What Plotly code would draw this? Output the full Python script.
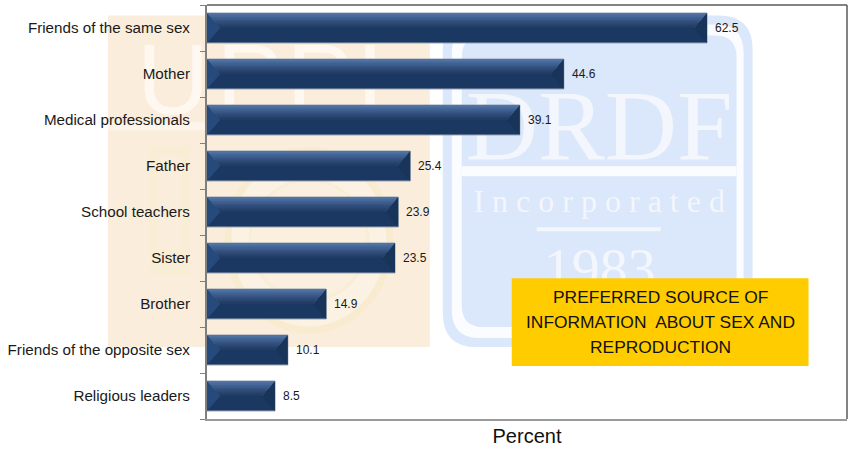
import plotly.graph_objects as go

categories = ["Friends of the same sex", "Mother", "Medical professionals", "Father",
              "School teachers", "Sister", "Brother", "Friends of the opposite sex", "Religious leaders"]
values = [62.5, 44.6, 39.1, 25.4, 23.9, 23.5, 14.9, 10.1, 8.5]
box_lines = ["PREFERRED SOURCE OF", "INFORMATION  ABOUT SEX AND", "REPRODUCTION"]
x_title = "Percent"

W, H = 852, 450
L, R, T, B = 207, 847.5, 4.5, 419
BAR_W = 0.65
BEVEL_X = 1.65        # data units
positions = list(range(len(categories)))


def px(x):
    return (x - L) / (R - L)


def py(y):
    return 1 - (y - T) / (B - T)


def rect(x0, y0, x1, y1, **kw):
    return dict(type="rect", xref="paper", yref="paper", x0=px(x0), x1=px(x1), y0=py(y0), y1=py(y1),
                layer="below", **kw)


def rrect(x0, y0, x1, y1, r, fill):
    a, b, c, d = px(x0), px(x1), py(y0), py(y1)
    rx, ry = r / (R - L), r / (B - T)
    path = (f"M {a+rx} {c} L {b-rx} {c} Q {b} {c} {b} {c-ry} L {b} {d+ry} Q {b} {d} {b-rx} {d} "
            f"L {a+rx} {d} Q {a} {d} {a} {d+ry} L {a} {c-ry} Q {a} {c} {a+rx} {c} Z")
    return dict(type="path", xref="paper", yref="paper", path=path, fillcolor=fill,
                line=dict(width=0), layer="below")


def wm_text(x0, y0, x1, y1, text, size, color, family="Liberation Serif"):
    return rect(x0, y0, x1, y1, fillcolor="rgba(0,0,0,0)", line=dict(width=0),
                label=dict(text=text, textposition="middle center",
                           font=dict(family=family, size=size, color=color)))


shapes = [
    rect(108, 15, 430, 347, fillcolor="#fbeddc", line=dict(width=0)),
    rect(108, 122, 215, 130, fillcolor="#fdf5ea", line=dict(width=0)),
    dict(type="circle", xref="paper", yref="paper", x0=px(228), x1=px(390), y0=py(150), y1=py(330),
         fillcolor="#fcf2e4", line=dict(color="#f8ebd0", width=7), layer="below"),
    dict(type="circle", xref="paper", yref="paper", x0=px(250), x1=px(368), y0=py(180), y1=py(300),
         fillcolor="#fbf0df", line=dict(color="#f8eed6", width=3), layer="below"),
    rect(150, 145, 190, 275, fillcolor="#f8eed6", line=dict(width=0)),
    rect(158, 155, 182, 250, fillcolor="#fbeddc", line=dict(width=0)),
    wm_text(130, 25, 216, 115, "U", 100, "#fef8f0", "Liberation Sans"),
    wm_text(207, 25, 293, 115, "P", 100, "#fef8f0", "Liberation Sans"),
    wm_text(277, 25, 363, 115, "P", 100, "#fef8f0", "Liberation Sans"),
    wm_text(327, 25, 413, 115, "I", 100, "#fef8f0", "Liberation Sans"),
    rrect(443, 15, 753, 347, 34, "#dbe7fa"),
    rrect(452, 24, 744, 338, 28, "#fbfcff"),
    rrect(462, 35, 737, 327, 22, "#dbe7fa"),
    rect(462, 166, 737, 176, fillcolor="#fbfcff", line=dict(width=0)),
    wm_text(462, 72, 737, 157, "DRDF", 100, "#f3f6fc"),
    wm_text(462, 180, 737, 215, "I n c o r p o r a t e d", 32, "#f3f6fc"),
    rect(537, 227, 661, 231, fillcolor="#f3f6fc", line=dict(width=0)),
    wm_text(500, 235, 700, 290, "1983", 56, "#f3f6fc"),
    dict(type="line", xref="paper", yref="paper", x0=0, x1=1, y0=1, y1=1,
         line=dict(color="#5a5a5a", width=1.5)),
    dict(type="line", xref="paper", yref="paper", x0=1, x1=1, y0=0, y1=1,
         line=dict(color="#5a5a5a", width=1.5)),
    dict(type="rect", xref="paper", yref="paper", x0=px(512), x1=px(809), y0=py(278), y1=py(366),
         fillcolor="#ffcc00", line=dict(width=0), layer="above"),
]

fig = go.Figure()
fig.add_bar(y=positions, x=values, orientation="h", width=BAR_W,
            marker=dict(color="#1a3861", line=dict(color="#8f9cb0", width=1)),
            hoverinfo="skip", showlegend=False)


def polys(fn):
    xs, ys = [], []
    for i, v in zip(positions, values):
        px_, py_ = fn(i, v)
        xs += px_ + [None]
        ys += py_ + [None]
    return xs, ys


def add_poly(fn, color):
    xs, ys = polys(fn)
    fig.add_scatter(x=xs, y=ys, mode="lines", fill="toself", fillcolor=color,
                    line=dict(width=0), hoverinfo="skip", showlegend=False)


# bevel wedges
apex = 0.5
top_h = BAR_W * apex
add_poly(lambda i, v: ([0, BEVEL_X, 0], [i - BAR_W / 2, i - BAR_W / 2 + top_h, i + BAR_W / 2]), "#264a7b")
add_poly(lambda i, v: ([v, v - BEVEL_X, v], [i - BAR_W / 2, i - BAR_W / 2 + top_h, i + BAR_W / 2]), "#183458")
# graded top band, narrowing toward the apex; painted back to front so that no seams show
band_colors = ["#4f74a3", "#46699a", "#3e5f8f", "#365584", "#2f4c78", "#29446d", "#213d66"]
n = len(band_colors)
for k, c in enumerate(band_colors):
    t0 = k / n
    add_poly(lambda i, v, t0=t0: (
        [BEVEL_X * t0, v - BEVEL_X * t0, v - BEVEL_X, BEVEL_X],
        [i - BAR_W / 2 + top_h * t0, i - BAR_W / 2 + top_h * t0,
         i - BAR_W / 2 + top_h, i - BAR_W / 2 + top_h]), c)

annotations = [dict(x=v, y=i, xref="x", yref="y", text=f"{v}", showarrow=False, xanchor="left",
                    xshift=6, font=dict(family="Liberation Sans", size=12, color="#1a1a1a"))
               for i, v in zip(positions, values)]
for line, yy in zip(box_lines, [297, 322, 347]):
    annotations.append(dict(x=px(660.5), y=py(yy), xref="paper", yref="paper", text=line, showarrow=False,
                            xanchor="center", yanchor="middle",
                            font=dict(family="Liberation Sans", size=17.4, color="#111111")))

fig.update_layout(
    width=W, height=H, margin=dict(l=L, r=W - R, t=T, b=H - B, autoexpand=False),
    paper_bgcolor="white", plot_bgcolor="rgba(0,0,0,0)", barmode="overlay",
    shapes=shapes, annotations=annotations, showlegend=False,
    xaxis=dict(range=[0, 80], showgrid=False, zeroline=False, showticklabels=False, ticks="",
               showline=True, linecolor="#9a9a9a", linewidth=2,
               title=dict(text=x_title, standoff=9, font=dict(family="Liberation Sans", size=20, color="#111111"))),
    yaxis=dict(range=[8.5, -0.5], tickmode="array", tickvals=positions, ticktext=categories,
               showgrid=False, zeroline=False, ticks="", ticklabelstandoff=12,
               showline=True, linecolor="#808080", linewidth=2,
               tickfont=dict(family="Liberation Sans", size=15.2, color="#1a1a1a"),
               minor=dict(tickmode="array", tickvals=[p - 0.5 for p in positions] + [8.5],
                          ticks="outside", ticklen=5, tickcolor="#808080", tickwidth=1)),
)
fig.write_html("out.html", config={"displayModeBar": False},
               post_script="document.body.style.margin='0';document.documentElement.style.overflow='hidden';")
